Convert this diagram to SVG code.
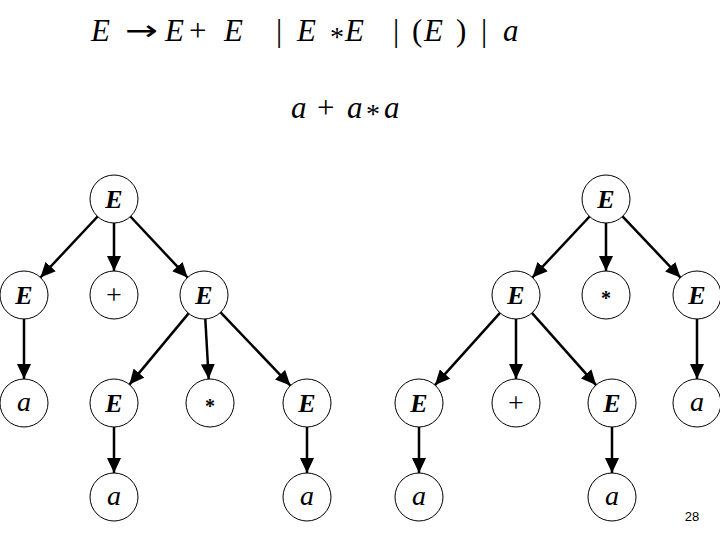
<svg xmlns="http://www.w3.org/2000/svg" width="720" height="540" viewBox="0 0 720 540">
<style>
.n circle{fill:#fff;stroke:#000;stroke-width:1}
.n text{font-family:"Liberation Serif",serif;text-anchor:middle;fill:#000}
.E{font-size:26px;font-weight:bold;font-style:italic}
.a{font-size:28px;font-style:italic}
.op{font-size:28px}
.st{font-size:20px;font-weight:bold}
.t{font-family:"Liberation Serif",serif;font-size:31px;fill:#000}
.s{font-family:"Liberation Serif",serif;font-size:28px;fill:#000}
.i{font-style:italic}
.ar{font-family:"DejaVu Sans",sans-serif;font-size:28px;fill:#000}
#edges line{stroke:#000;stroke-width:2.5;marker-end:url(#ah)}
</style>
<defs>
<marker id="ah" markerUnits="userSpaceOnUse" markerWidth="16" markerHeight="14" refX="15" refY="7" orient="auto">
<path d="M0,0 L15,7 L0,14 Z" fill="#000"/>
</marker>
</defs>
<rect width="720" height="540" fill="#fff"/>
<g id="title">
<text class="t i" x="91" y="41">E</text>
<text class="ar" x="125" y="40" textLength="33" lengthAdjust="spacingAndGlyphs">→</text>
<text class="t i" x="165" y="41">E</text>
<text class="t" x="189" y="41">+</text>
<text class="t i" x="224" y="41">E</text>
<text class="t" x="276" y="41">|</text>
<text class="t i" x="297" y="41">E</text>
<text class="s" x="330" y="46">*</text>
<text class="t i" x="345" y="41">E</text>
<text class="t" x="393" y="41">|</text>
<text class="t" x="412" y="41">(</text>
<text class="t i" x="424" y="41">E</text>
<text class="t" x="456" y="41">)</text>
<text class="t" x="481" y="41">|</text>
<text class="t i" x="503" y="41">a</text>
</g>
<g id="input">
<text class="t i" x="291" y="118">a</text>
<text class="t" x="317" y="118">+</text>
<text class="t i" x="347" y="118">a</text>
<text class="s" x="366" y="123">*</text>
<text class="t i" x="384" y="118">a</text>
</g>
<g id="edges">
<line x1="97.6" y1="216.5" x2="40.4" y2="277.5"/>
<line x1="114" y1="223" x2="114" y2="271"/>
<line x1="130.4" y1="216.5" x2="187.6" y2="277.5"/>
<line x1="24" y1="319" x2="24" y2="379"/>
<line x1="188.6" y1="313.4" x2="129.4" y2="384.6"/>
<line x1="205.3" y1="319" x2="208.7" y2="379"/>
<line x1="220.6" y1="312.4" x2="290.4" y2="385.6"/>
<line x1="114" y1="427" x2="114" y2="473"/>
<line x1="307" y1="427" x2="307" y2="473"/>
<line x1="589.6" y1="216.5" x2="532.4" y2="277.5"/>
<line x1="606" y1="223" x2="606" y2="271"/>
<line x1="622.5" y1="216.4" x2="680.5" y2="277.6"/>
<line x1="500" y1="312.9" x2="435" y2="385.1"/>
<line x1="516" y1="319" x2="516" y2="379"/>
<line x1="531.9" y1="312.9" x2="596.1" y2="385.1"/>
<line x1="697" y1="319" x2="697" y2="379"/>
<line x1="419" y1="427" x2="419" y2="473"/>
<line x1="612" y1="427" x2="612" y2="473"/>
</g>
<g id="L1" class="n"><circle cx="114" cy="199" r="24"/><text class="E" x="114" y="208">E</text></g>
<g id="L2" class="n"><circle cx="24" cy="295" r="24"/><text class="E" x="24" y="304">E</text></g>
<g id="L3" class="n"><circle cx="114" cy="295" r="24"/><text class="op" x="114" y="304">+</text></g>
<g id="L4" class="n"><circle cx="204" cy="295" r="24"/><text class="E" x="204" y="304">E</text></g>
<g id="L5" class="n"><circle cx="24" cy="403" r="24"/><text class="a" x="24" y="411">a</text></g>
<g id="L6" class="n"><circle cx="114" cy="403" r="24"/><text class="E" x="114" y="412">E</text></g>
<g id="L7" class="n"><circle cx="210" cy="403" r="24"/><text class="st" x="210" y="413">*</text></g>
<g id="L8" class="n"><circle cx="307" cy="403" r="24"/><text class="E" x="307" y="412">E</text></g>
<g id="L9" class="n"><circle cx="114" cy="497" r="24"/><text class="a" x="114" y="505">a</text></g>
<g id="L10" class="n"><circle cx="307" cy="497" r="24"/><text class="a" x="307" y="505">a</text></g>
<g id="R1" class="n"><circle cx="606" cy="199" r="24"/><text class="E" x="606" y="208">E</text></g>
<g id="R2" class="n"><circle cx="516" cy="295" r="24"/><text class="E" x="516" y="304">E</text></g>
<g id="R3" class="n"><circle cx="606" cy="295" r="24"/><text class="st" x="606" y="305">*</text></g>
<g id="R4" class="n"><circle cx="697" cy="295" r="24"/><text class="E" x="697" y="304">E</text></g>
<g id="R5" class="n"><circle cx="419" cy="403" r="24"/><text class="E" x="419" y="412">E</text></g>
<g id="R6" class="n"><circle cx="516" cy="403" r="24"/><text class="op" x="516" y="412">+</text></g>
<g id="R7" class="n"><circle cx="612" cy="403" r="24"/><text class="E" x="612" y="412">E</text></g>
<g id="R8" class="n"><circle cx="697" cy="403" r="24"/><text class="a" x="697" y="411">a</text></g>
<g id="R9" class="n"><circle cx="419" cy="497" r="24"/><text class="a" x="419" y="505">a</text></g>
<g id="R10" class="n"><circle cx="612" cy="497" r="24"/><text class="a" x="612" y="505">a</text></g>
<text x="692" y="521" font-family="Liberation Sans,sans-serif" font-size="13" text-anchor="middle" fill="#000">28</text>
</svg>
